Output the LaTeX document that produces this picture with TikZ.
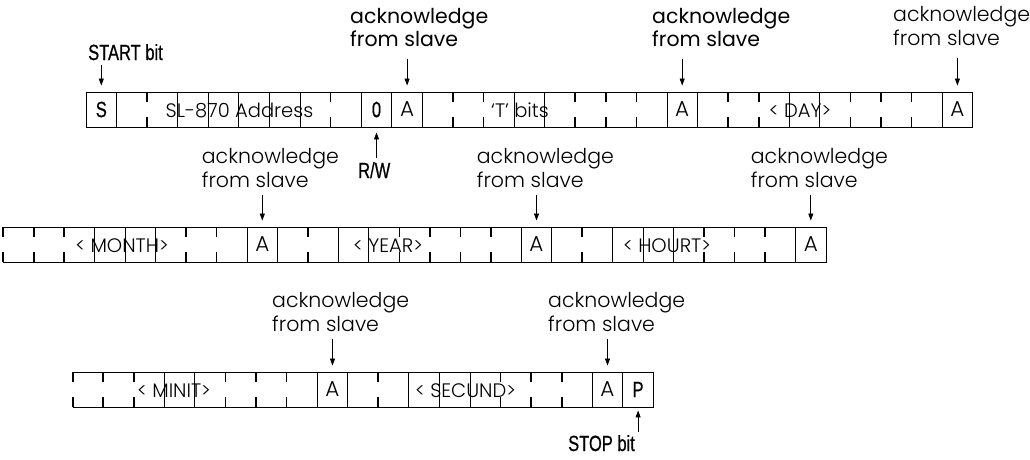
\documentclass[tikz,border=0pt]{standalone}
\usepackage{fontspec}
\setmainfont{Poppins Light}
\newfontfamily\darkf{Poppins}
\newfontfamily\condf[FakeStretch=0.75,FakeBold=0.6]{Liberation Sans}
\usetikzlibrary{arrows.meta}
% #1 x0, #2 cell width, #3 top y, #4 number of cells, #5 full boundaries, #6 tick boundaries
\newcommand\bitrow[6]{%
  \draw[boxline] (#1,#3) -- ++({#4*#2},0) (#1,#3+35) -- ++({#4*#2},0);
  \foreach \k in {#5} \draw[boxline] ({#1+\k*#2},#3) -- ++(0,35);
  \foreach \k in {#6} \draw[tickline] ({#1+\k*#2},#3) -- ++(0,10) ({#1+\k*#2},#3+35) -- ++(0,-10);
}
\begin{document}
\begin{tikzpicture}[x=1pt,y=-1pt,
  boxline/.style={line width=0.9pt},
  tickline/.style={line width=1.7pt},
  bitcell/.style={draw,line width=0.9pt,minimum width=30.5pt,minimum height=35pt,inner sep=0pt,font=\condf\fontsize{22}{22}\selectfont},
  acell/.style={bitcell,font=\fontsize{21.5}{22}\selectfont},
  fieldtext/.style={inner sep=0pt,anchor=base,font=\fontsize{19.5}{21}\selectfont},
  note/.style={inner sep=0pt,align=left,anchor=north west,font=\fontsize{20.5}{24}\selectfont},
  darknote/.style={note,font=\darkf\fontsize{20.5}{23}\selectfont},
  cond/.style={inner sep=0pt,anchor=base west,font=\condf\fontsize{22}{22}\selectfont},
  arr/.style={-{Triangle[length=7pt,width=5pt]},line width=0.8pt}
]
\useasboundingbox (0,0) rectangle (1030,459);

% ---- row 1 ----
\bitrow{86}{30.576}{92}{29}{0,1,3,4,5,6,7,9,10,11,14,15,19,20,23,24,28,29}{2,8,12,13,16,17,18,21,22,25,26,27}
\node[bitcell] (S)   at (101.3,109.5) {S};
\node[bitcell] (RW0) at (376.5,109.5) {0};
\node[acell]   (A1)  at (407.1,109.5) {A};
\node[acell]   (A2)  at (682.2,109.5) {A};
\node[acell]   (A3)  at (957.4,109.5) {A};
\node[fieldtext] (addr)  at (239.5,117) {SL-870 Address};
\node[fieldtext] (tbits) at (520,117) {‘T’ bits};
\node[fieldtext] (day)   at (800,117) {< DAY>};

% ---- row 2 ----
\bitrow{3.3}{30.47}{227}{27}{3,4,5,8,9,11,12,17,18,20,21,22,26,27}{0,1,2,6,7,10,13,14,15,16,19,23,24,25}
\node[acell] (A4) at (262.3,244.5) {A};
\node[acell] (A5) at (536.5,244.5) {A};
\node[acell] (A6) at (810.8,244.5) {A};
\node[fieldtext] (month) at (122,252) {< MONTH>};
\node[fieldtext] (year)  at (388,252) {< YEAR>};
\node[fieldtext] (hourt) at (667,252) {< HOURT>};

% ---- row 3 ----
\bitrow{72.7}{30.56}{372}{19}{3,4,8,9,11,12,13,17,18,19}{0,1,2,5,6,7,10,14,15,16}
\node[acell]   (A7) at (332.5,389.5) {A};
\node[acell]   (A8) at (607.5,389.5) {A};
\node[bitcell] (P)  at (638.1,389.5) {P};
\node[fieldtext] (minit)  at (174,397) {< MINIT>};
\node[fieldtext] (secund) at (465.5,397) {< SECUND>};

% ---- labels ----
\node[cond] (start) at (88,60) {START bit};
\node[cond] (rw)    at (358,178) {R/W};
\node[cond] (stop)  at (568,451) {STOP bit};
\node[darknote] (ack1) at (350,8) {acknowledge\\from slave};
\node[darknote] (ack2) at (652,8) {acknowledge\\from slave};
\node[note] (ack3) at (893,6) {acknowledge\\from slave};
\node[note] (ack4) at (201.7,148) {acknowledge\\from slave};
\node[note] (ack5) at (476.7,148) {acknowledge\\from slave};
\node[note] (ack6) at (750.7,148) {acknowledge\\from slave};
\node[note] (ack7) at (272,292) {acknowledge\\from slave};
\node[note] (ack8) at (548,292) {acknowledge\\from slave};

% ---- arrows ----
\draw[arr,shorten <=5pt,shorten >=6pt] (start.south -| S.north) -- (S.north);
\draw[arr,shorten <=12pt,shorten >=6pt] (ack1.south -| A1.north) -- (A1.north);
\draw[arr,shorten <=12pt,shorten >=6pt] (ack2.south -| A2.north) -- (A2.north);
\draw[arr,shorten <=12pt,shorten >=6pt] (ack3.south -| A3.north) -- (A3.north);
\draw[arr,shorten <=7pt,shorten >=6pt] (ack4.south -| A4.north) -- (A4.north);
\draw[arr,shorten <=7pt,shorten >=6pt] (ack5.south -| A5.north) -- (A5.north);
\draw[arr,shorten <=7pt,shorten >=6pt] (ack6.south -| A6.north) -- (A6.north);
\draw[arr,shorten <=7pt,shorten >=6pt] (ack7.south -| A7.north) -- (A7.north);
\draw[arr,shorten <=7pt,shorten >=6pt] (ack8.south -| A8.north) -- (A8.north);
\draw[arr,shorten <=4pt,shorten >=5pt] (rw.north -| RW0.south) -- (RW0.south);
\draw[arr,shorten <=3pt,shorten >=3pt] (stop.north -| P.south) -- (P.south);
\end{tikzpicture}
\end{document}
